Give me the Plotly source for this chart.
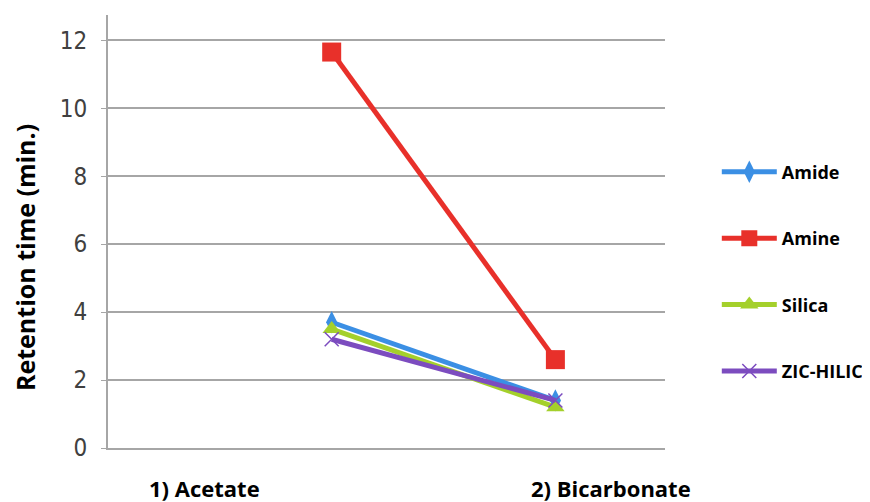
import plotly.graph_objects as go

# data
categories = ["1) Acetate", "2) Bicarbonate"]
series_names = ["Amide", "Amine", "Silica", "ZIC-HILIC"]
amide = [3.7, 1.4]
amine = [11.65, 2.6]
silica = [3.5, 1.2]
zic_hilic = [3.2, 1.4]
y_ticks = [0, 2, 4, 6, 8, 10, 12]

styles = {
    "Amide": dict(color="#3b8fe4", symbol="diamond-tall", size=16, mline=None),
    "Amine": dict(color="#e8302a", symbol="square", size=19, mline=None),
    "Silica": dict(color="#a4d02b", symbol="triangle-up", size=16, mline=None),
    "ZIC-HILIC": dict(color="#7c4cbf", symbol="x-thin-open", size=14, mline="#b58cf0"),
}

fig = go.Figure()
for i, (name, vals) in enumerate(zip(series_names, [amide, amine, silica, zic_hilic])):
    s = styles[name]
    marker = dict(symbol=s["symbol"], size=s["size"], color=s["color"])
    if s["mline"]:
        marker["line"] = dict(color=s["mline"], width=1.5)
    fig.add_trace(go.Scatter(
        x=[0, 1], y=vals, name="<b>%s</b>" % name, mode="lines+markers",
        line=dict(color=s["color"], width=5),
        marker=marker, legendgroup="g%d" % i,
    ))

# category labels sit away from the points in the original
label_pos = [-0.57, 1.25]
for lab, xp in zip(categories, label_pos):
    fig.add_annotation(x=xp, xref="x", y=0, yref="paper", yshift=-40,
                       yanchor="middle", text="<b>%s</b>" % lab, showarrow=False,
                       font=dict(size=22, color="black", family="Open Sans"))

# y title
fig.add_annotation(x=-0.148, xref="paper", y=0.44, yref="paper", textangle=-90,
                   xanchor="center", yanchor="middle", showarrow=False,
                   text="<b>Retention time (min.)</b>",
                   font=dict(size=25, color="black", family="Open Sans"))

fig.update_layout(
    width=870, height=502,
    margin=dict(l=100, r=213, t=7, b=62),
    plot_bgcolor="white", paper_bgcolor="white",
    font=dict(family="Open Sans", color="#404040"),
    legend=dict(x=1.093, xanchor="left", y=0.68, yanchor="top",
                tracegroupgap=40, font=dict(size=18, color="black"),
                itemwidth=55, borderwidth=0),
)
fig.update_xaxes(range=[-1, 1.49], showticklabels=False, showgrid=False,
                 zeroline=False, showline=True, linecolor="#a6a6a6", linewidth=2)
fig.update_yaxes(range=[0, 12.74], tickvals=y_ticks, showgrid=True,
                 gridcolor="#a6a6a6", gridwidth=2, zeroline=False,
                 showline=True, linecolor="#a6a6a6", linewidth=2,
                 ticks="outside", ticklen=5, tickcolor="#a6a6a6",
                 ticklabelstandoff=9,
                 tickfont=dict(size=24, color="#404040",
                               family="Liberation Sans Narrow, DejaVu Sans Condensed, Open Sans"))

fig.write_html("out.html")
